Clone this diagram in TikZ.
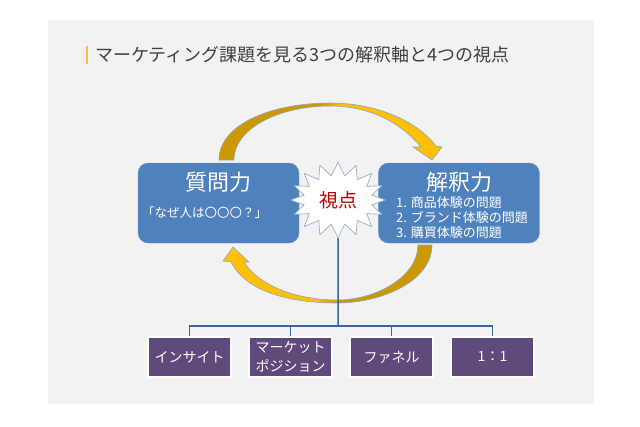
\documentclass[tikz,border=0pt]{standalone}
\usepackage{fontspec}
\setmainfont{Noto Sans CJK JP}
\usetikzlibrary{positioning,shapes.symbols,calc}
\definecolor{slidegray}{RGB}{242,242,242}
\definecolor{titlegray}{RGB}{64,64,64}
\definecolor{accentorange}{RGB}{246,190,70}
\definecolor{boxblue}{RGB}{79,129,189}
\definecolor{boxedge}{RGB}{120,158,208}
\definecolor{boxpurple}{RGB}{96,74,123}
\definecolor{linkblue}{RGB}{59,100,160}
\definecolor{golddark}{RGB}{204,153,0}
\definecolor{goldlight}{RGB}{255,192,0}
\definecolor{arrowedge}{RGB}{140,165,200}
\definecolor{pointred}{RGB}{192,0,0}
\pgfdeclarehorizontalshading{goldsplit}{100bp}{color(0bp)=(golddark); color(47bp)=(golddark); color(53bp)=(goldlight); color(100bp)=(goldlight)}

\begin{document}
\begin{tikzpicture}[x=1pt, y=-1pt,
  bluebox/.style={draw=boxedge, fill=boxblue, rounded corners=10pt, minimum width=161pt, minimum height=80pt},
  viewbox/.style={draw=white, line width=2pt, fill=boxpurple, text=white, minimum width=83pt, minimum height=40pt, align=center, font=\fontsize{14pt}{19pt}\selectfont},
  boxtitle/.style={text=white, inner sep=0pt, font=\fontsize{22pt}{25pt}\selectfont},
  boxtext/.style={text=white, inner sep=0pt, align=left, font=\fontsize{13pt}{15pt}\selectfont},
  bentarrow/.style={shading=goldsplit, draw=arrowedge, line width=0.6pt},
  link/.style={draw=linkblue, line width=1.5pt}]
  \useasboundingbox (0,0) rectangle (640,426);
  \fill[white] (0,0) rectangle (640,426);
  \fill[slidegray] (48,20) rectangle (594,404);

  % title
  \node[anchor=west, inner sep=0pt, text=titlegray, font=\fontsize{18pt}{22pt}\selectfont] (title) at (95,55) {マーケティング課題を見る3つの解釈軸と4つの視点};
  \draw[accentorange, line width=2.5pt] ([xshift=-8pt]title.north west) -- ([xshift=-8pt]title.south west);

  % curved arrows
  \path[bentarrow] (219,160) .. controls (219,124) and (272,103) .. (330,103)
    .. controls (377,103) and (417,121) .. (436,146) -- (442,147) -- (432,160) -- (413,147) -- (421,147)
    .. controls (401,123) and (370,106) .. (330,106)
    .. controls (280,106) and (234,128) .. (234,160) -- cycle;
  \path[bentarrow, shading angle=180] (432,245) .. controls (432,281) and (382,303) .. (337,303)
    .. controls (286,303) and (245,290) .. (231,262) -- (223,261) -- (233,247) -- (249,262) -- (244,262)
    .. controls (258,285) and (296,300) .. (337,300)
    .. controls (377,300) and (418,276) .. (418,245) -- cycle;

  % perspective boxes
  \node[bluebox] (quest) at (218.5,203) {};
  \node[bluebox, right=79pt of quest] (interp) {};
  \node[boxtitle] (questT) at (218.5,182) {質問力};
  \node[boxtext, anchor=west] (questS) at (142,213) {\fontsize{12.5pt}{15pt}\selectfont 「なぜ人は〇〇〇？」};
  \node[boxtitle] (interpT) at (459,182) {解釈力};
  \node[boxtext, anchor=west] (interpS) at (396,218) {1. 商品体験の問題\\2. ブランド体験の問題\\3. 購買体験の問題};

  \node[starburst, starburst points=16, starburst point height=13pt, random starburst=0,
    minimum width=95pt, minimum height=75pt, inner sep=0pt, fill=white, draw=arrowedge, line width=0.6pt,
    text=pointred, font=\fontsize{19pt}{22pt}\selectfont] (point) at (338,200) {視点};

  % four viewpoints
  \node[viewbox] (v1) at (189.5,357) {インサイト};
  \node[viewbox, right=16pt of v1] (v2) {マーケット\\ポジション};
  \node[viewbox, right=16pt of v2] (v3) {ファネル};
  \node[viewbox, right=16pt of v3] (v4) {1：1};

  \coordinate (hub) at (338,326);
  \draw[link] (point.south) -- (hub);
  \draw[link] (v1.north) |- (hub) -| (v4.north);
  \draw[link] (v2.north) -- (v2.north |- hub);
  \draw[link] (v3.north) -- (v3.north |- hub);
\end{tikzpicture}
\end{document}
